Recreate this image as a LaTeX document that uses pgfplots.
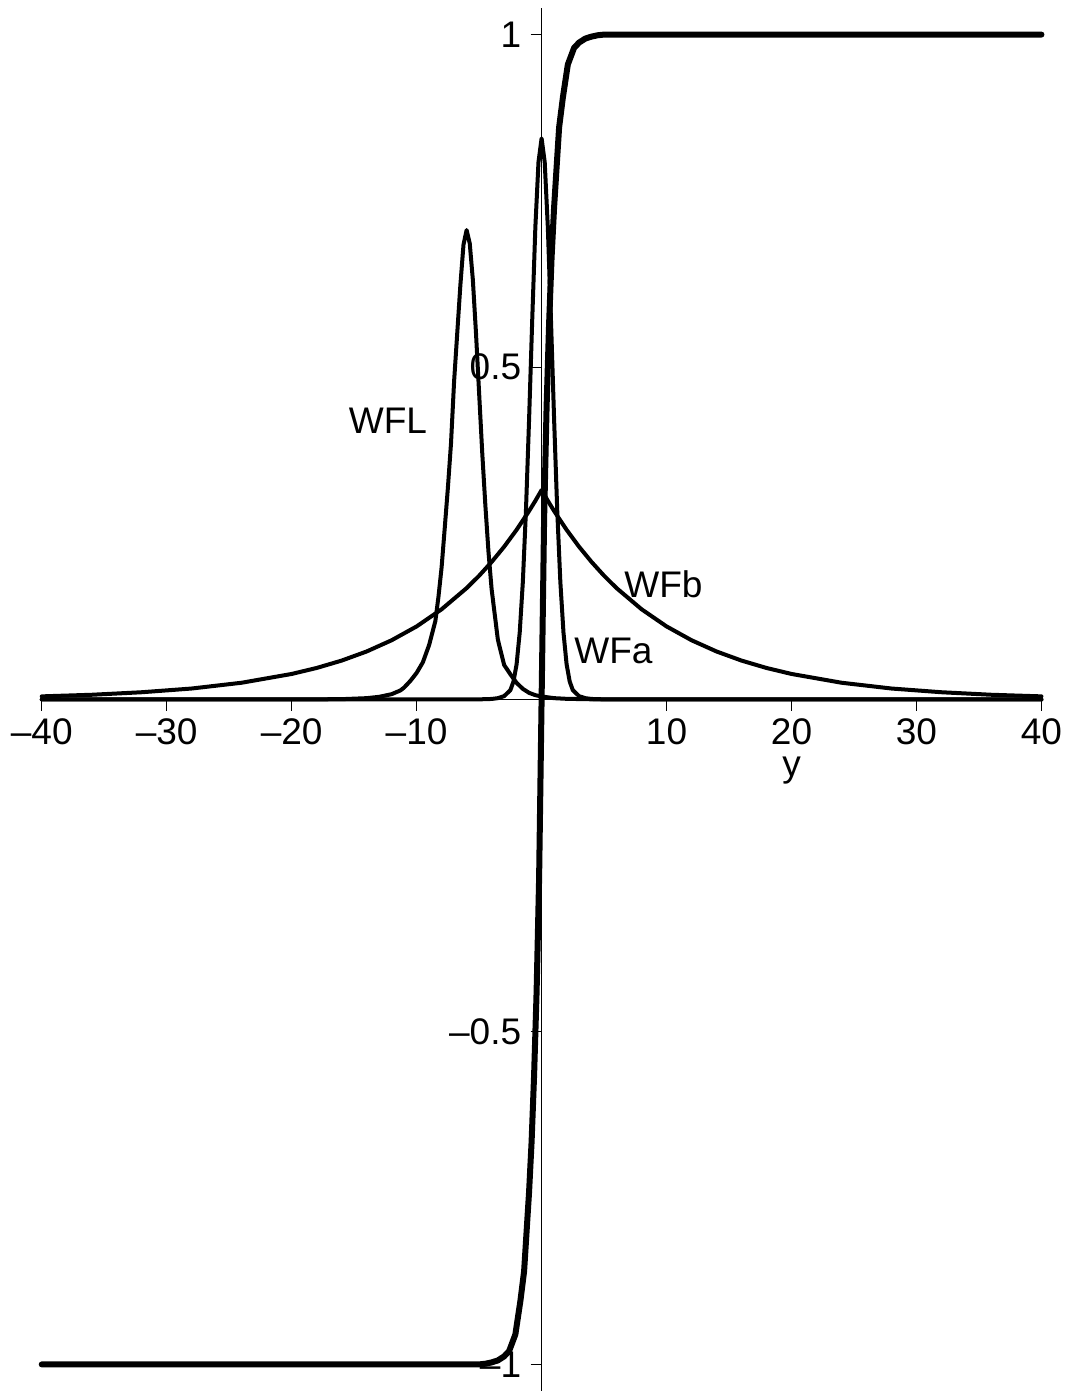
\documentclass[border=0pt]{standalone}
\usepackage{fontspec}
\setmainfont{Liberation Sans}
\usepackage{pgfplots}
\pgfplotsset{compat=1.18}

\begin{document}
\begin{tikzpicture}
  \begin{axis}[
      axis lines=middle,
      axis line style={line width=0.7pt, -},
      scale only axis,
      width=499.5pt, height=691pt,
      xmin=-40, xmax=40, ymin=-1.04, ymax=1.04,
      clip=false,
      tick align=outside,
      major tick length=5.5pt,
      minor tick length=3pt,
      every tick/.style={line width=0.5pt, black},
      xtick={-40,-30,-20,-10,10,20,30,40},
      xticklabels={–40,–30,–20,–10,10,20,30,40},
      ytick={-1,-0.5,0.5,1},
      yticklabels={–1,–0.5,0.5,1},
      minor x tick num=4,
      minor y tick num=4,
      ticklabel style={font=\fontsize{18.5}{21}\selectfont},
      xticklabel style={anchor=north, inner sep=0pt, yshift=-4pt},
      yticklabel style={anchor=east, inner sep=0pt, xshift=-4.5pt},
      cycle list={{black, no markers}},
      every axis plot/.append style={line width=2pt, line join=round, line cap=round},
    ]

    % WFb
    \addplot coordinates {
      (-40,0.0047) (-36,0.0071) (-32,0.0109) (-28,0.0165) (-24,0.0252)
      (-20,0.0384) (-18,0.0474) (-16,0.0585) (-14,0.0722) (-12,0.0891)
      (-10,0.1099) (-8,0.1357) (-6,0.1675) (-5,0.1861) (-4,0.2068)
      (-3,0.2297) (-2,0.2552) (-1,0.2835) (-0.5,0.2988) (0,0.315)
      (0.5,0.2988) (1,0.2835) (2,0.2552) (3,0.2297) (4,0.2068)
      (5,0.1861) (6,0.1675) (8,0.1357) (10,0.1099) (12,0.0891)
      (14,0.0722) (16,0.0585) (18,0.0474) (20,0.0384) (24,0.0252)
      (28,0.0165) (32,0.0109) (36,0.0071) (40,0.0047)
    };

    % WFL
    \addplot coordinates {
      (-40,0) (-20,0) (-16,0.0005) (-14,0.002) (-13,0.004) (-12,0.008)
      (-11.3,0.0136) (-11,0.018) (-10.5,0.028) (-10,0.040) (-9.5,0.056)
      (-9,0.082) (-8.5,0.118) (-8.25,0.155) (-8,0.199) (-7.75,0.258)
      (-7.5,0.318) (-7.25,0.385) (-7,0.479) (-6.75,0.551) (-6.5,0.623)
      (-6.25,0.684) (-6,0.706) (-5.75,0.686) (-5.5,0.631) (-5.25,0.551)
      (-5,0.461) (-4.75,0.371) (-4.5,0.292) (-4.25,0.222) (-4,0.166)
      (-3.5,0.090) (-3,0.052) (-2.5,0.038) (-2,0.025) (-1.5,0.016)
      (-1,0.010) (-0.5,0.0065) (0,0.0045) (1,0.002) (2,0.001) (4,0.0003)
      (10,0) (40,0)
    };

    % WFa
    \addplot coordinates {
      (-40,0) (-10,0) (-5,0.0002) (-4,0.0008) (-3.5,0.002) (-3,0.005)
      (-2.5,0.014) (-2.25,0.027) (-2,0.053) (-1.75,0.101) (-1.5,0.177)
      (-1.25,0.285) (-1,0.422) (-0.75,0.571) (-0.5,0.710) (-0.25,0.808)
      (0,0.844) (0.25,0.808) (0.5,0.710) (0.75,0.571) (1,0.422)
      (1.25,0.285) (1.5,0.177) (1.75,0.101) (2,0.053) (2.25,0.027)
      (2.5,0.014) (3,0.005) (3.5,0.002) (4,0.0008) (5,0.0002) (10,0) (40,0)
    };

    % kink
    \addplot[line width=3pt] coordinates {
      (-40,-1) (-5,-1) (-4.5,-0.999) (-4,-0.997) (-3.5,-0.994) (-3,-0.988)
      (-2.6,-0.98) (-2.1,-0.955) (-1.7,-0.905) (-1.4,-0.86) (-1.2,-0.8)
      (-1,-0.74) (-0.8,-0.665) (-0.6,-0.565) (-0.4,-0.44) (-0.2,-0.27)
      (0,0) (0.2,0.27) (0.4,0.44) (0.6,0.565) (0.8,0.665) (1,0.74)
      (1.2,0.8) (1.4,0.86) (1.7,0.905) (2.1,0.955) (2.6,0.98) (3,0.988)
      (3.5,0.994) (4,0.997) (4.5,0.999) (5,1) (40,1)
    };

    \node[anchor=base west, inner sep=0pt, font=\fontsize{18.5}{21}\selectfont] at (axis cs:-15.45,0.400) {WFL};
    \node[anchor=base west, inner sep=0pt, font=\fontsize{18.5}{21}\selectfont] at (axis cs:2.59,0.0538) {WFa};
    \node[anchor=base west, inner sep=0pt, font=\fontsize{18.5}{21}\selectfont] at (axis cs:6.59,0.154) {WFb};
    \node[anchor=base, inner sep=0pt, font=\fontsize{18.5}{21}\selectfont] at (axis cs:20,-0.1165) {y};

    \coordinate (bl) at (rel axis cs:0,0);
    \coordinate (tr) at (rel axis cs:1,1);
  \end{axis}
  \pgfresetboundingbox
  \path[use as bounding box] ([xshift=-20.85pt]bl) rectangle ([xshift=12.15pt,yshift=4pt]tr);
\end{tikzpicture}
\end{document}
